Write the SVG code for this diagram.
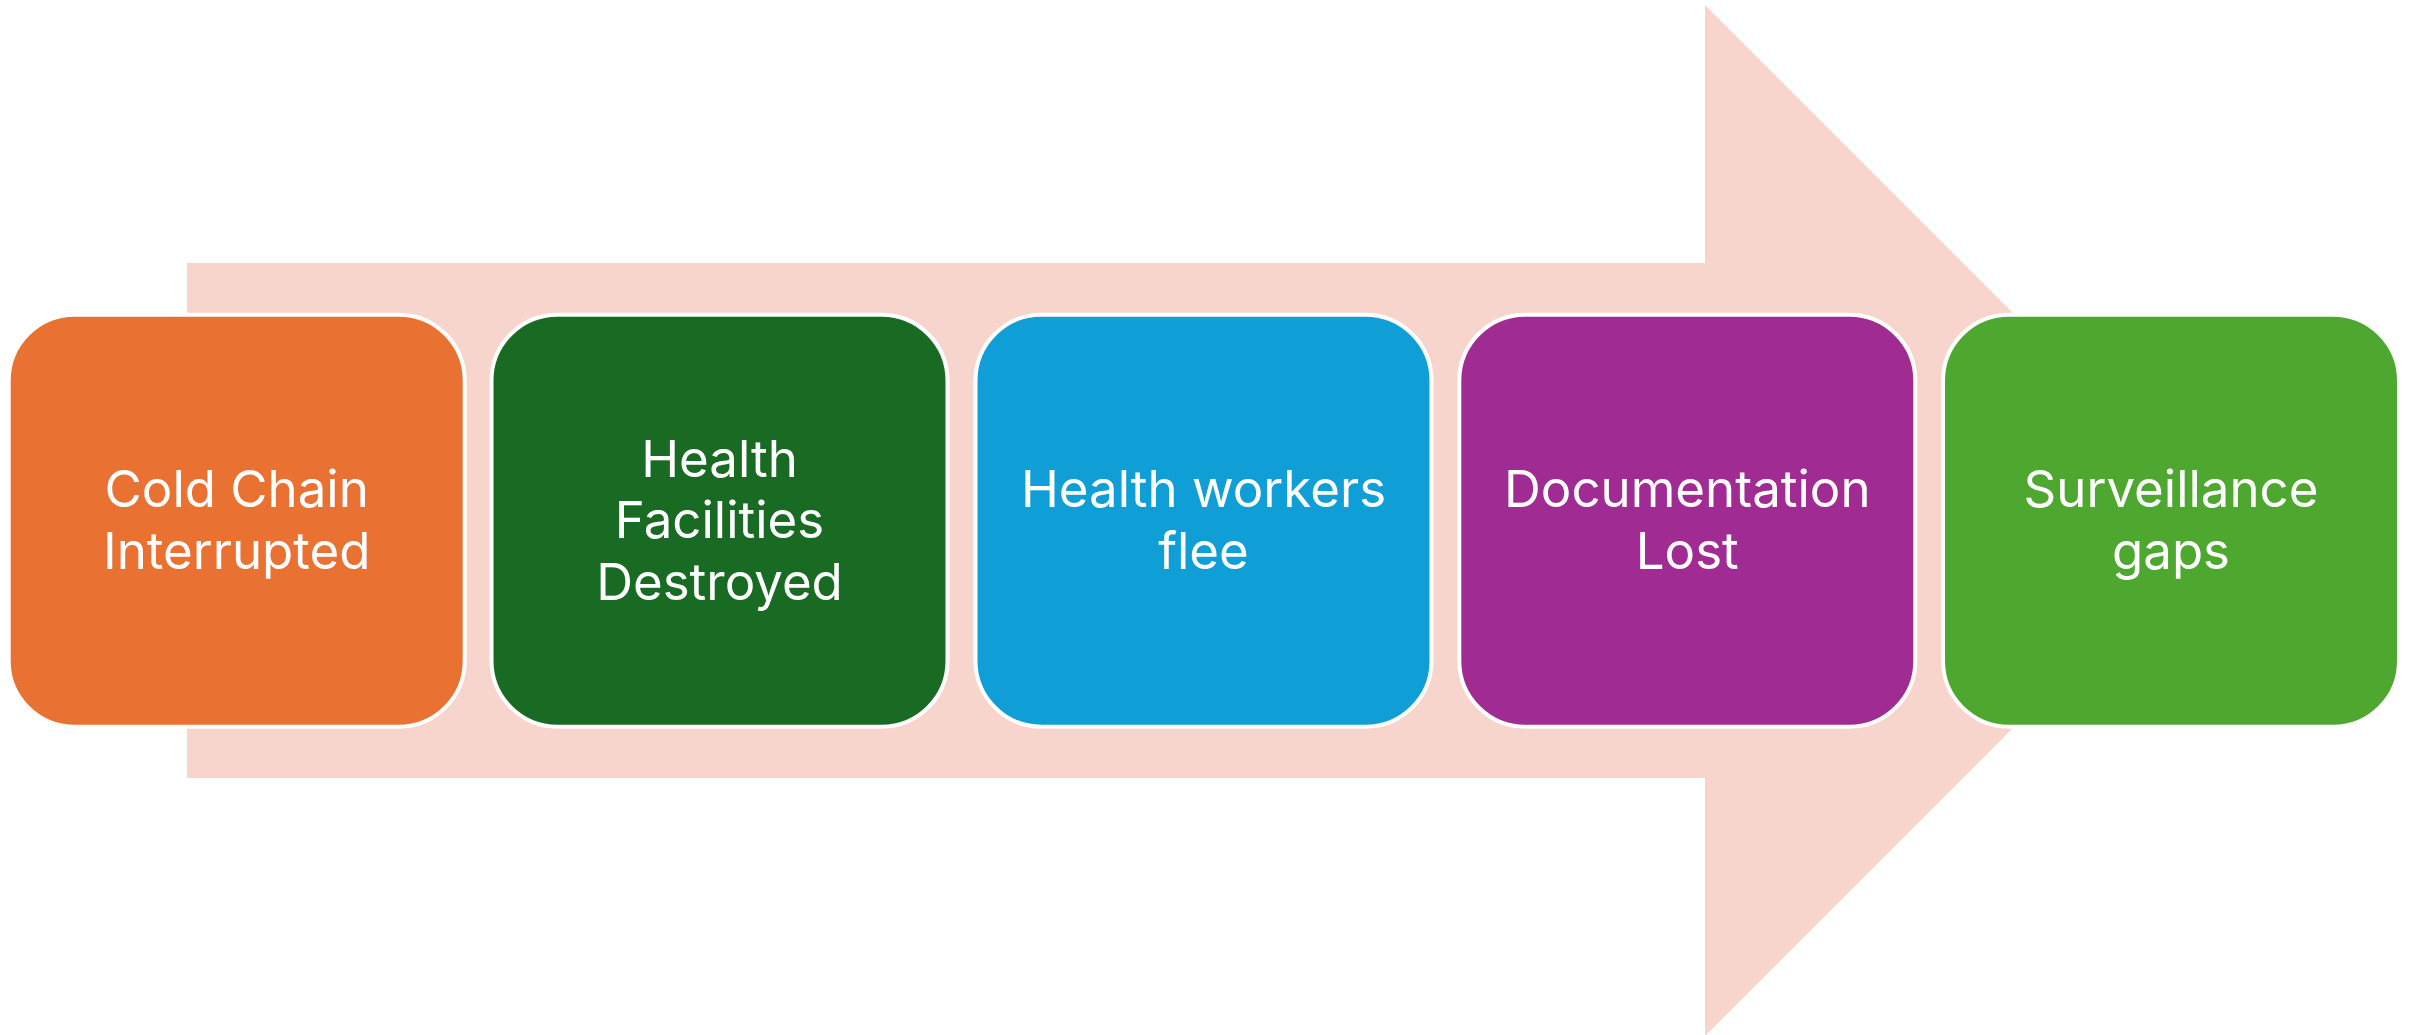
<svg xmlns="http://www.w3.org/2000/svg" width="2412" height="1035" viewBox="0 0 2412 1035">
<style>
.box{stroke:#FFFFFF;stroke-width:4}
.lbl{font-family:Inter,"Noto Sans","Liberation Sans",sans-serif;font-size:51px;fill:#FFFFFF;text-anchor:middle}
</style>
<rect width="2412" height="1035" fill="#FFFFFF"/>
<g id="connectors">
<polygon id="process-arrow" points="187,263 1705,263 1705,5 2220.5,520.5 1705,1036 1705,778 187,778" fill="#F7D5CC"/>
</g>
<g id="node1">
<rect class="box" x="8.7" y="314.7" width="456" height="412" rx="66" fill="#E97132"/>
<text class="lbl" x="236.7"><tspan x="236.7" y="507">Cold Chain</tspan><tspan x="236.7" y="568.5">Interrupted</tspan></text>
</g>
<g id="node2">
<rect class="box" x="491.5" y="314.7" width="456" height="412" rx="66" fill="#196B24"/>
<text class="lbl"><tspan x="719.5" y="476.5">Health</tspan><tspan x="719.5" y="538">Facilities</tspan><tspan x="719.5" y="599.5">Destroyed</tspan></text>
</g>
<g id="node3">
<rect class="box" x="975.5" y="314.7" width="456" height="412" rx="66" fill="#0F9ED5"/>
<text class="lbl"><tspan x="1203.5" y="507">Health workers</tspan><tspan x="1203.5" y="568.5">flee</tspan></text>
</g>
<g id="node4">
<rect class="box" x="1459.3" y="314.7" width="456" height="412" rx="66" fill="#A02B93"/>
<text class="lbl"><tspan x="1687.3" y="507">Documentation</tspan><tspan x="1687.3" y="568.5">Lost</tspan></text>
</g>
<g id="node5">
<rect class="box" x="1943" y="314.7" width="456" height="412" rx="66" fill="#4EA72E"/>
<text class="lbl"><tspan x="2171" y="507">Surveillance</tspan><tspan x="2171" y="568.5">gaps</tspan></text>
</g>
</svg>
